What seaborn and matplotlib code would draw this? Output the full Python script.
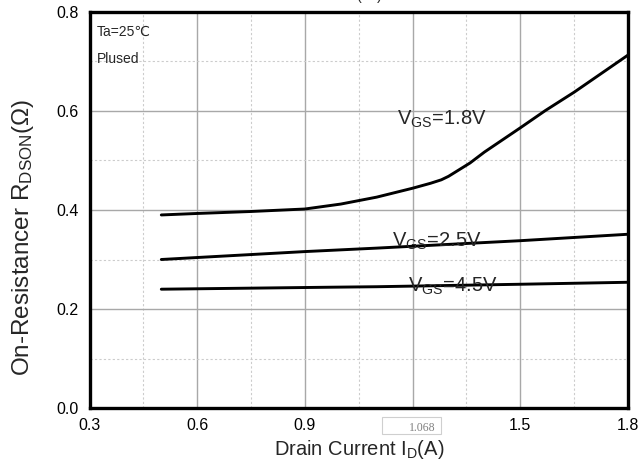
import matplotlib
matplotlib.use("Agg")
import matplotlib.pyplot as plt
from matplotlib.ticker import MultipleLocator, FormatStrFormatter
from matplotlib.patches import Rectangle
import seaborn as sns
import pandas as pd

# ---- data ----
id_18 = [0.5, 0.6, 0.75, 0.9, 1.0, 1.1, 1.2, 1.25, 1.28, 1.3, 1.32, 1.36, 1.4, 1.5, 1.57, 1.65, 1.8]
r_18 = [0.390, 0.393, 0.397, 0.402, 0.412, 0.426, 0.444, 0.454, 0.461, 0.468, 0.477, 0.495, 0.517, 0.566, 0.601, 0.638, 0.713]

id_25 = [0.5, 0.9, 1.1, 1.5, 1.8]
r_25 = [0.300, 0.316, 0.323, 0.338, 0.351]

id_45 = [0.5, 0.97, 1.1, 1.5, 1.8]
r_45 = [0.240, 0.244, 0.245, 0.250, 0.254]

series_labels = ["V$_{\\mathregular{GS}}$=1.8V", "V$_{\\mathregular{GS}}$=2.5V", "V$_{\\mathregular{GS}}$=4.5V"]
label_pos = [(1.157, 0.572), (1.143, 0.325), (1.187, 0.234)]

xticks = [0.3, 0.6, 0.9, 1.2, 1.5, 1.8]
yticks = [0.0, 0.2, 0.4, 0.6, 0.8]

df = pd.concat([
    pd.DataFrame({"Id": id_18, "R": r_18, "s": "1.8"}),
    pd.DataFrame({"Id": id_25, "R": r_25, "s": "2.5"}),
    pd.DataFrame({"Id": id_45, "R": r_45, "s": "4.5"}),
])

sns.set_style("white")
plt.rcParams["font.family"] = ["Liberation Sans", "DejaVu Sans"]
plt.rcParams["mathtext.fontset"] = "custom"
plt.rcParams["mathtext.rm"] = "Liberation Sans"
plt.rcParams["mathtext.it"] = "Liberation Sans"

fig = plt.figure(figsize=(6.4, 4.73), dpi=100)
ax = fig.add_axes([89.5 / 640, 1 - 408 / 473, (628 - 89.5) / 640, (408 - 12) / 473])

sns.lineplot(data=df, x="Id", y="R", hue="s", palette=["black"] * 3,
             legend=False, linewidth=2.1, ax=ax, sort=True)

ax.set_xlim(0.3, 1.8)
ax.set_ylim(0.0, 0.8)
ax.set_xticks(xticks)
ax.set_yticks(yticks)
ax.xaxis.set_major_formatter(FormatStrFormatter("%.1f"))
ax.yaxis.set_major_formatter(FormatStrFormatter("%.1f"))
ax.xaxis.set_minor_locator(MultipleLocator(0.15))
ax.yaxis.set_minor_locator(MultipleLocator(0.1))
ax.grid(True, which="major", color="#a8a8a8", linewidth=1.0, linestyle="-")
ax.grid(True, which="minor", color="#cccccc", linewidth=0.8, linestyle=(0, (2, 2)))
ax.set_axisbelow(True)
ax.tick_params(which="both", length=0, labelsize=11.5, colors="black")
ax.tick_params(axis="y", pad=8)
ax.tick_params(axis="x", pad=7)
for sp in ax.spines.values():
    sp.set_linewidth(2.4)
    sp.set_color("black")

ax.set_xlabel("Drain Current I$_{\\mathregular{D}}$(A)", fontsize=14.5)
ax.set_ylabel("On-Resistancer R$_{\\mathregular{DSON}}$(Ω)", fontsize=17.5)
ax.yaxis.set_label_coords(-0.1, 0.43)

for lab, (lx, ly) in zip(series_labels, label_pos):
    ax.text(lx, ly, lab, fontsize=14.5, ha="left", va="baseline")

ax.text(0.321, 0.751, "Ta=25℃", fontsize=10, ha="left", va="baseline",
        family=["Liberation Sans", "DejaVu Sans"])
ax.text(0.321, 0.697, "Plused", fontsize=10, ha="left", va="baseline")

# title mostly cut off at the top edge, as in the reference
fig.text(322 / 640, 1 + 2 / 473, "R$_{\\mathregular{DS(on)}}$ vs I$_{\\mathregular{D}}$",
         fontsize=14.5, ha="left", va="baseline")

# small value box under the axis
fig.patches.append(Rectangle((381.7 / 640, 1 - 434.3 / 473), (441 - 381.7) / 640, 17 / 473,
                             transform=fig.transFigure, facecolor="white",
                             edgecolor="#cfcfcf", linewidth=0.8, zorder=0))
fig.text(436 / 640, 1 - 431 / 473, "1.068", fontsize=8.5, color="#808080",
         family="Liberation Serif", ha="right", va="baseline", zorder=0)

fig.savefig("out.png", dpi=100)
